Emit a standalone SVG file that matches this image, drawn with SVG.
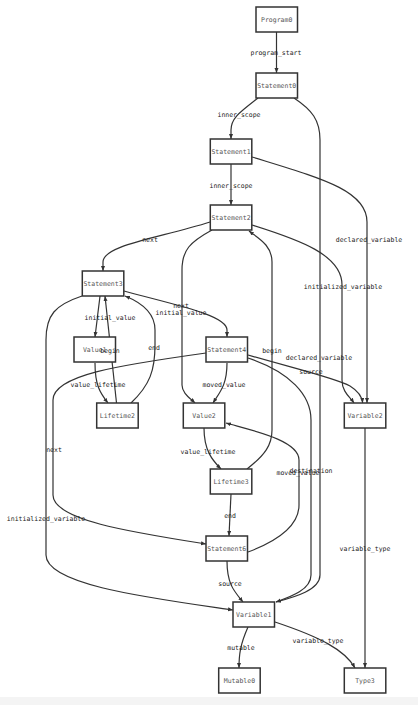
<svg xmlns="http://www.w3.org/2000/svg" width="418" height="705" viewBox="0 0 418 705">
<style>
.n rect{fill:#fff;stroke:#333;stroke-width:1.5}
.n text{font-family:"DejaVu Sans Mono",monospace;font-size:6.5px;fill:#555;text-anchor:middle}
.e path{fill:none;stroke:#333;stroke-width:1.2}
.l text{font-family:"DejaVu Sans Mono",monospace;font-size:6.5px;fill:#222;text-anchor:middle}
</style>
<defs>
<marker id="a" markerUnits="userSpaceOnUse" markerWidth="6" markerHeight="5" refX="5" refY="2" orient="auto">
<path d="M0,0 L5,2 L0,4 z" fill="#333"/>
</marker>
</defs>
<rect x="0" y="0" width="418" height="705" fill="#fff"/>
<rect x="0" y="697" width="418" height="8" fill="#f4f4f4"/>
<g id="edges" class="e">
<path d="M276.5,32 L276.5,73" marker-end="url(#a)"/>
<path d="M258,98 C240,112 231,118 231,130 L231,139" marker-end="url(#a)"/>
<path d="M294,98 C312,110 320,120 320,140 L320,575 C320,590 295,597 276,602" marker-end="url(#a)"/>
<path d="M231,164 L231,205" marker-end="url(#a)"/>
<path d="M252,157 C320,178 367,190 367,222 L367,403" marker-end="url(#a)"/>
<path d="M210,222 C160,238 103,245 103,262 L103,271" marker-end="url(#a)"/>
<path d="M212,230 C190,242 182,250 182,270 L182,385 C182,393 190,398 195,403" marker-end="url(#a)"/>
<path d="M247,469 C265,455 272,445 272,430 L272,262 C272,245 258,238 249,231" marker-end="url(#a)"/>
<path d="M252,225 C300,240 342,255 342,285 L342,380 C342,392 350,397 354,403" marker-end="url(#a)"/>
<path d="M100,296 L95,337" marker-end="url(#a)"/>
<path d="M116.5,403 L105,296" marker-end="url(#a)"/>
<path d="M131,403 C150,385 155,370 155,345 L155,330 C155,310 135,300 125,296" marker-end="url(#a)"/>
<path d="M95,363 C95,385 100,393 108,403" marker-end="url(#a)"/>
<path d="M124,291 C175,305 227,315 227,330 L227,337" marker-end="url(#a)"/>
<path d="M82,296 C55,305 46,315 46,340 L46,555 C46,585 150,598 233,610" marker-end="url(#a)"/>
<path d="M206,353 C120,365 53,375 53,400 L53,495 C53,520 130,532 206,544" marker-end="url(#a)"/>
<path d="M227,363 C227,385 220,392 213,403" marker-end="url(#a)"/>
<path d="M248,355 C300,370 335,378 350,386 C358,391 362,396 362.7,403" marker-end="url(#a)"/>
<path d="M248,358 C290,372 311,395 311,420 L311,575 C311,590 290,597 276,602" marker-end="url(#a)"/>
<path d="M248,552 C280,540 299,525 299,505 L299,460 C299,440 250,430 226,423" marker-end="url(#a)"/>
<path d="M204,428 C204,450 212,460 221,469" marker-end="url(#a)"/>
<path d="M231,494 L229,536" marker-end="url(#a)"/>
<path d="M227,561 C227,585 235,592 243,602" marker-end="url(#a)"/>
<path d="M248,627 C240,645 239,655 239,668" marker-end="url(#a)"/>
<path d="M275,622 C320,637 345,650 355,668" marker-end="url(#a)"/>
<path d="M365,428 L365,668" marker-end="url(#a)"/>
</g>
<g id="Program0" class="n"><rect x="256" y="7" width="41.5" height="25"/><text x="276.7" y="21.8">Program0</text></g>
<g id="Statement0" class="n"><rect x="256" y="73" width="41.5" height="25"/><text x="276.7" y="87.8">Statement0</text></g>
<g id="Statement1" class="n"><rect x="210.3" y="139" width="41.5" height="25"/><text x="231" y="153.8">Statement1</text></g>
<g id="Statement2" class="n"><rect x="210.3" y="205" width="41.5" height="25"/><text x="231" y="219.8">Statement2</text></g>
<g id="Statement3" class="n"><rect x="82.3" y="271" width="41.5" height="25"/><text x="103" y="285.8">Statement3</text></g>
<g id="Value1" class="n"><rect x="74" y="337" width="41.5" height="25"/><text x="94.7" y="351.8">Value1</text></g>
<g id="Statement4" class="n"><rect x="206" y="337" width="41.5" height="25"/><text x="226.7" y="351.8">Statement4</text></g>
<g id="Lifetime2" class="n"><rect x="96.7" y="403" width="41.5" height="25"/><text x="117.4" y="417.8">Lifetime2</text></g>
<g id="Value2" class="n"><rect x="183.3" y="403" width="41.5" height="25"/><text x="204" y="417.8">Value2</text></g>
<g id="Variable2" class="n"><rect x="344.3" y="403" width="41.5" height="25"/><text x="365" y="417.8">Variable2</text></g>
<g id="Lifetime3" class="n"><rect x="210.3" y="469" width="41.5" height="25"/><text x="231" y="483.8">Lifetime3</text></g>
<g id="Statement6" class="n"><rect x="206" y="536" width="41.5" height="25"/><text x="226.7" y="550.8">Statement6</text></g>
<g id="Variable1" class="n"><rect x="233" y="602" width="41.5" height="25"/><text x="253.7" y="616.8">Variable1</text></g>
<g id="Mutable0" class="n"><rect x="218.7" y="668" width="41.5" height="25"/><text x="239.4" y="682.8">Mutable0</text></g>
<g id="Type3" class="n"><rect x="344.3" y="668" width="41.5" height="25"/><text x="365" y="682.8">Type3</text></g>
<g id="labels" class="l">
<text x="276" y="54.5">program_start</text>
<text x="239" y="117">inner_scope</text>
<text x="319" y="359.5">declared_variable</text>
<text x="231" y="187.5">inner_scope</text>
<text x="369" y="241.5">declared_variable</text>
<text x="150" y="241.5">next</text>
<text x="181" y="314.5">initial_value</text>
<text x="272" y="352.5">begin</text>
<text x="343" y="288.5">initialized_variable</text>
<text x="110" y="319.5">initial_value</text>
<text x="110" y="352.5">begin</text>
<text x="154" y="349.5">end</text>
<text x="98" y="386.5">value_lifetime</text>
<text x="181" y="307.5">next</text>
<text x="46" y="520.5">initialized_variable</text>
<text x="54" y="451.5">next</text>
<text x="224" y="386.5">moved_value</text>
<text x="311" y="373.5">source</text>
<text x="311" y="472.5">destination</text>
<text x="298" y="474.5">moved_value</text>
<text x="208" y="453.5">value_lifetime</text>
<text x="230" y="517.5">end</text>
<text x="230" y="585.5">source</text>
<text x="241" y="649.5">mutable</text>
<text x="318" y="642.5">variable_type</text>
<text x="365" y="551">variable_type</text>
</g>
</svg>
